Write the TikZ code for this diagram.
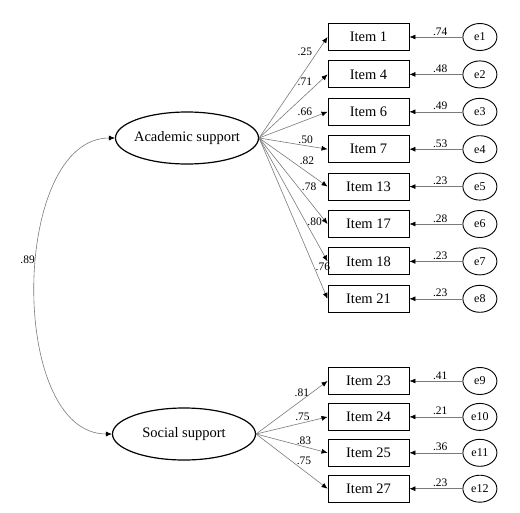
\documentclass[tikz,border=0pt]{standalone}
\usepackage{fontspec}
\setmainfont{Liberation Serif}
\usepackage{xcolor}
\usetikzlibrary{arrows.meta,positioning,shapes.geometric}
\definecolor{PathGray}{HTML}{7A7A7A}
\begin{document}
\begin{tikzpicture}[
  x=1pt,y=-1pt,
  latent/.style={draw,ellipse,line width=1.2pt,minimum width=143pt,minimum height=52pt,inner xsep=-2.5pt,inner ysep=0pt,font=\fontsize{14.5}{16}\selectfont},
  item/.style={draw,rectangle,line width=0.9pt,minimum width=81pt,minimum height=27pt,inner sep=0pt,font=\fontsize{14.5}{16}\selectfont},
  err/.style={draw,ellipse,line width=0.9pt,minimum width=34pt,minimum height=27pt,inner sep=0pt,font=\fontsize{12}{14}\selectfont},
  edge/.style={-{Latex[length=6pt,width=5pt,color=black]},draw=PathGray,line width=0.6pt},
  cov/.style={{Latex[length=6pt,width=5pt,color=black]}-{Latex[length=6pt,width=5pt,color=black]},draw=PathGray,line width=0.6pt},
  coef/.style={font=\fontsize{11.5}{12}\selectfont,inner sep=1.5pt}
]
\useasboundingbox (0,0) rectangle (520,512);
\node[latent] (academic) at (187,138) {Academic support};
\node[latent] (social) at (184,434) {Social support};
\node[item] (item1) at (368.5,37) {Item 1};
\node[item,below=9.5pt of item1] (item4) {Item 4};
\node[item,below=9.5pt of item4] (item6) {Item 6};
\node[item,below=9.5pt of item6] (item7) {Item 7};
\node[item,below=9.5pt of item7] (item13) {Item 13};
\node[item,below=9.5pt of item13] (item17) {Item 17};
\node[item,below=9.5pt of item17] (item18) {Item 18};
\node[item,below=9.5pt of item18] (item21) {Item 21};
\node[item] (item23) at (368.5,381) {Item 23};
\node[item,below=8pt of item23] (item24) {Item 24};
\node[item,below=8pt of item24] (item25) {Item 25};
\node[item,below=8pt of item25] (item27) {Item 27};
\node[err,right=53pt of item1] (e1) {e1};
\node[err,right=53pt of item4] (e2) {e2};
\node[err,right=53pt of item6] (e3) {e3};
\node[err,right=53pt of item7] (e4) {e4};
\node[err,right=53pt of item13] (e5) {e5};
\node[err,right=53pt of item17] (e6) {e6};
\node[err,right=53pt of item18] (e7) {e7};
\node[err,right=53pt of item21] (e8) {e8};
\node[err,right=53pt of item23] (e9) {e9};
\node[err,right=53pt of item24] (e10) {e10};
\node[err,right=53pt of item25] (e11) {e11};
\node[err,right=53pt of item27] (e12) {e12};
\draw[edge] (academic.east) -- node[coef,pos=0.8,auto]{.25} (item1.west);
\draw[edge] (academic.east) -- node[coef,pos=0.8,auto]{.71} (item4.west);
\draw[edge] (academic.east) -- node[coef,pos=0.8,auto]{.66} (item6.west);
\draw[edge] (academic.east) -- node[coef,pos=0.68,above]{.50} (item7.west);
\draw[edge] (academic.east) -- node[coef,pos=0.7,above=6pt]{.82} (item13.west);
\draw[edge] (academic.east) -- node[coef,pos=0.57,right=2pt]{.78} (item17.west);
\draw[edge] (academic.east) -- node[coef,pos=0.68,right]{.80} (item18.west);
\draw[edge] (academic.east) -- node[coef,pos=0.8,right]{.76} (item21.west);
\draw[edge] (social.east) -- node[coef,pos=0.64,above=2pt]{.81} (item23.west);
\draw[edge] (social.east) -- node[coef,pos=0.65,above]{.75} (item24.west);
\draw[edge] (social.east) -- node[coef,pos=0.67,above]{.83} (item25.west);
\draw[edge] (social.east) -- node[coef,pos=0.67,above=4pt]{.75} (item27.west);
\draw[edge] (e1) -- node[coef,pos=0.42,above]{.74} (item1);
\draw[edge] (e2) -- node[coef,pos=0.42,above]{.48} (item4);
\draw[edge] (e3) -- node[coef,pos=0.42,above]{.49} (item6);
\draw[edge] (e4) -- node[coef,pos=0.42,above]{.53} (item7);
\draw[edge] (e5) -- node[coef,pos=0.42,above]{.23} (item13);
\draw[edge] (e6) -- node[coef,pos=0.42,above]{.28} (item17);
\draw[edge] (e7) -- node[coef,pos=0.42,above]{.23} (item18);
\draw[edge] (e8) -- node[coef,pos=0.42,above]{.23} (item21);
\draw[edge] (e9) -- node[coef,pos=0.42,above]{.41} (item23);
\draw[edge] (e10) -- node[coef,pos=0.42,above]{.21} (item24);
\draw[edge] (e11) -- node[coef,pos=0.42,above]{.36} (item25);
\draw[edge] (e12) -- node[coef,pos=0.42,above]{.23} (item27);
\draw[cov] (academic.west) to[out=180,in=180,looseness=0.9] node[coef,pos=0.44,left]{.89} (social.west);
\end{tikzpicture}
\end{document}
